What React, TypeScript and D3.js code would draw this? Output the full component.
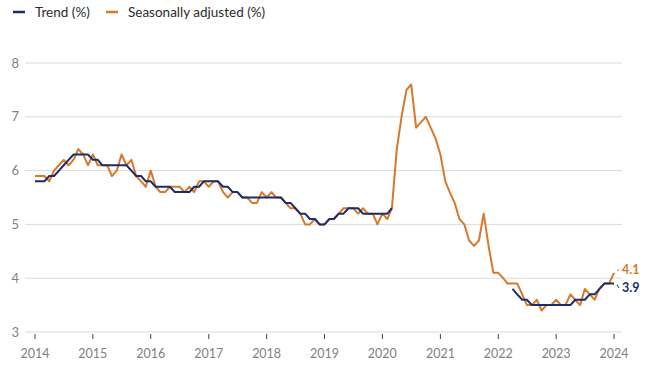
import React, { useEffect, useRef } from 'react';
import * as d3 from 'd3';

// monthly, Jan 2014 .. Jan 2024
const startMonth = new Date(2014, 0, 1);

const seasonal = [
  5.9, 5.9, 5.9, 5.8, 6.0, 6.1, 6.2, 6.1, 6.2, 6.4, 6.3, 6.1,
  6.3, 6.1, 6.1, 6.1, 5.9, 6.0, 6.3, 6.1, 6.2, 5.9, 5.8, 5.7,
  6.0, 5.7, 5.6, 5.6, 5.7, 5.7, 5.7, 5.6, 5.7, 5.6, 5.8, 5.8,
  5.7, 5.8, 5.8, 5.6, 5.5, 5.6, 5.6, 5.5, 5.5, 5.4, 5.4, 5.6,
  5.5, 5.6, 5.5, 5.5, 5.4, 5.3, 5.3, 5.2, 5.0, 5.0, 5.1, 5.0,
  5.0, 5.1, 5.1, 5.2, 5.3, 5.3, 5.3, 5.2, 5.3, 5.2, 5.2, 5.0,
  5.2, 5.1, 5.3, 6.4, 7.0, 7.5, 7.6, 6.8, 6.9, 7.0, 6.8, 6.6,
  6.3, 5.8, 5.6, 5.4, 5.1, 5.0, 4.7, 4.6, 4.7, 5.2, 4.6, 4.1,
  4.1, 4.0, 3.9, 3.9, 3.9, 3.7, 3.5, 3.5, 3.6, 3.4, 3.5, 3.5,
  3.6, 3.5, 3.5, 3.7, 3.6, 3.5, 3.8, 3.7, 3.6, 3.8, 3.9, 3.9,
  4.1,
];

// trend series was suspended Apr 2020 - Mar 2022
const trend = [
  5.8, 5.8, 5.8, 5.9, 5.9, 6.0, 6.1, 6.2, 6.3, 6.3, 6.3, 6.3,
  6.2, 6.2, 6.1, 6.1, 6.1, 6.1, 6.1, 6.1, 6.0, 5.9, 5.9, 5.8,
  5.8, 5.7, 5.7, 5.7, 5.7, 5.6, 5.6, 5.6, 5.6, 5.7, 5.7, 5.8,
  5.8, 5.8, 5.8, 5.7, 5.7, 5.6, 5.6, 5.5, 5.5, 5.5, 5.5, 5.5,
  5.5, 5.5, 5.5, 5.5, 5.4, 5.4, 5.3, 5.2, 5.2, 5.1, 5.1, 5.0,
  5.0, 5.1, 5.1, 5.2, 5.2, 5.3, 5.3, 5.3, 5.2, 5.2, 5.2, 5.2,
  5.2, 5.2, 5.3, null, null, null, null, null, null, null, null, null,
  null, null, null, null, null, null, null, null, null, null, null, null,
  null, null, null, 3.8, 3.7, 3.6, 3.6, 3.5, 3.5, 3.5, 3.5, 3.5,
  3.5, 3.5, 3.5, 3.5, 3.6, 3.6, 3.6, 3.7, 3.7, 3.8, 3.9, 3.9,
  3.9,
];

const yTicks = [3, 4, 5, 6, 7, 8];
const xYears = [2014, 2015, 2016, 2017, 2018, 2019, 2020, 2021, 2022, 2023, 2024];

const NAVY = '#1a2c6c';
const ORANGE = '#d8782b';
const FONT = 'Lato, "Open Sans", sans-serif';

export default function App() {
  const ref = useRef<SVGSVGElement>(null);

  useEffect(() => {
    const svg = d3.select(ref.current);
    svg.selectAll('*').remove();

    const x = d3.scaleTime()
      .domain([new Date(2014, 0, 1), new Date(2024, 0, 1)])
      .range([35, 614]);
    const y = d3.scaleLinear().domain([3, 8]).range([332, 63]);

    const dateAt = (i: number) => d3.timeMonth.offset(startMonth, i);

    // grid + y labels
    const grid = svg.append('g');
    grid.selectAll('line')
      .data(yTicks)
      .join('line')
      .attr('x1', 25)
      .attr('x2', 622)
      .attr('y1', d => y(d))
      .attr('y2', d => y(d))
      .attr('stroke', '#dadada')
      .attr('stroke-width', 1);
    grid.selectAll('text')
      .data(yTicks)
      .join('text')
      .attr('x', 19)
      .attr('y', d => y(d))
      .attr('dy', '0.35em')
      .attr('text-anchor', 'end')
      .attr('font-family', FONT)
      .attr('font-size', 13)
      .attr('fill', '#808080')
      .text(d => d);

    // x axis ticks + labels
    const xa = svg.append('g');
    xa.selectAll('line')
      .data(xYears)
      .join('line')
      .attr('x1', d => x(new Date(d, 0, 1)))
      .attr('x2', d => x(new Date(d, 0, 1)))
      .attr('y1', 334)
      .attr('y2', 339)
      .attr('stroke', '#444')
      .attr('stroke-width', 1);
    xa.selectAll('text')
      .data(xYears)
      .join('text')
      .attr('x', d => x(new Date(d, 0, 1)))
      .attr('y', 354)
      .attr('dy', '0.35em')
      .attr('text-anchor', 'middle')
      .attr('font-family', FONT)
      .attr('font-size', 12.5)
      .attr('fill', '#808080')
      .text(d => d);

    const line = d3.line<number | null>()
      .defined(d => d != null)
      .x((d, i) => x(dateAt(i)))
      .y(d => y(d as number));

    svg.append('path')
      .datum(seasonal)
      .attr('d', line)
      .attr('fill', 'none')
      .attr('stroke', ORANGE)
      .attr('stroke-width', 2)
      .attr('stroke-linejoin', 'round');

    svg.append('path')
      .datum(trend)
      .attr('d', line)
      .attr('fill', 'none')
      .attr('stroke', NAVY)
      .attr('stroke-width', 2)
      .attr('stroke-linejoin', 'round');

    // end labels
    const last = seasonal.length - 1;
    const ends = [
      { v: seasonal[last], c: ORANGE, ly: 270 },
      { v: trend[last] as number, c: NAVY, ly: 288 },
    ];
    const lx = x(dateAt(last));
    ends.forEach(e => {
      svg.append('line')
        .attr('x1', lx + 3)
        .attr('x2', lx + 5)
        .attr('y1', (y(e.v) + e.ly) / 2 - 1)
        .attr('y2', e.ly)
        .attr('stroke', e.c)
        .attr('stroke-width', 1);
      svg.append('text')
        .attr('x', lx + 8)
        .attr('y', e.ly)
        .attr('dy', '0.35em')
        .attr('font-family', FONT)
        .attr('font-weight', 'bold')
        .attr('font-size', 12.5)
        .attr('fill', e.c)
        .text(e.v.toFixed(1));
    });

    // legend
    const legend = [
      { label: 'Trend (%)', c: NAVY, x: 13 },
      { label: 'Seasonally adjusted (%)', c: ORANGE, x: 106 },
    ];
    legend.forEach(l => {
      svg.append('line')
        .attr('x1', l.x)
        .attr('x2', l.x + 12)
        .attr('y1', 12)
        .attr('y2', 12)
        .attr('stroke', l.c)
        .attr('stroke-width', 2.5);
      svg.append('text')
        .attr('x', l.x + 22)
        .attr('y', 12)
        .attr('dy', '0.35em')
        .attr('font-family', FONT)
        .attr('font-size', 13.5)
        .attr('fill', '#2b2b2b')
        .text(l.label);
    });
  }, []);

  return (
    <svg
      ref={ref}
      width={650}
      height={374}
      style={{ position: 'absolute', left: 0, top: 0, background: '#fff' }}
    />
  );
}
